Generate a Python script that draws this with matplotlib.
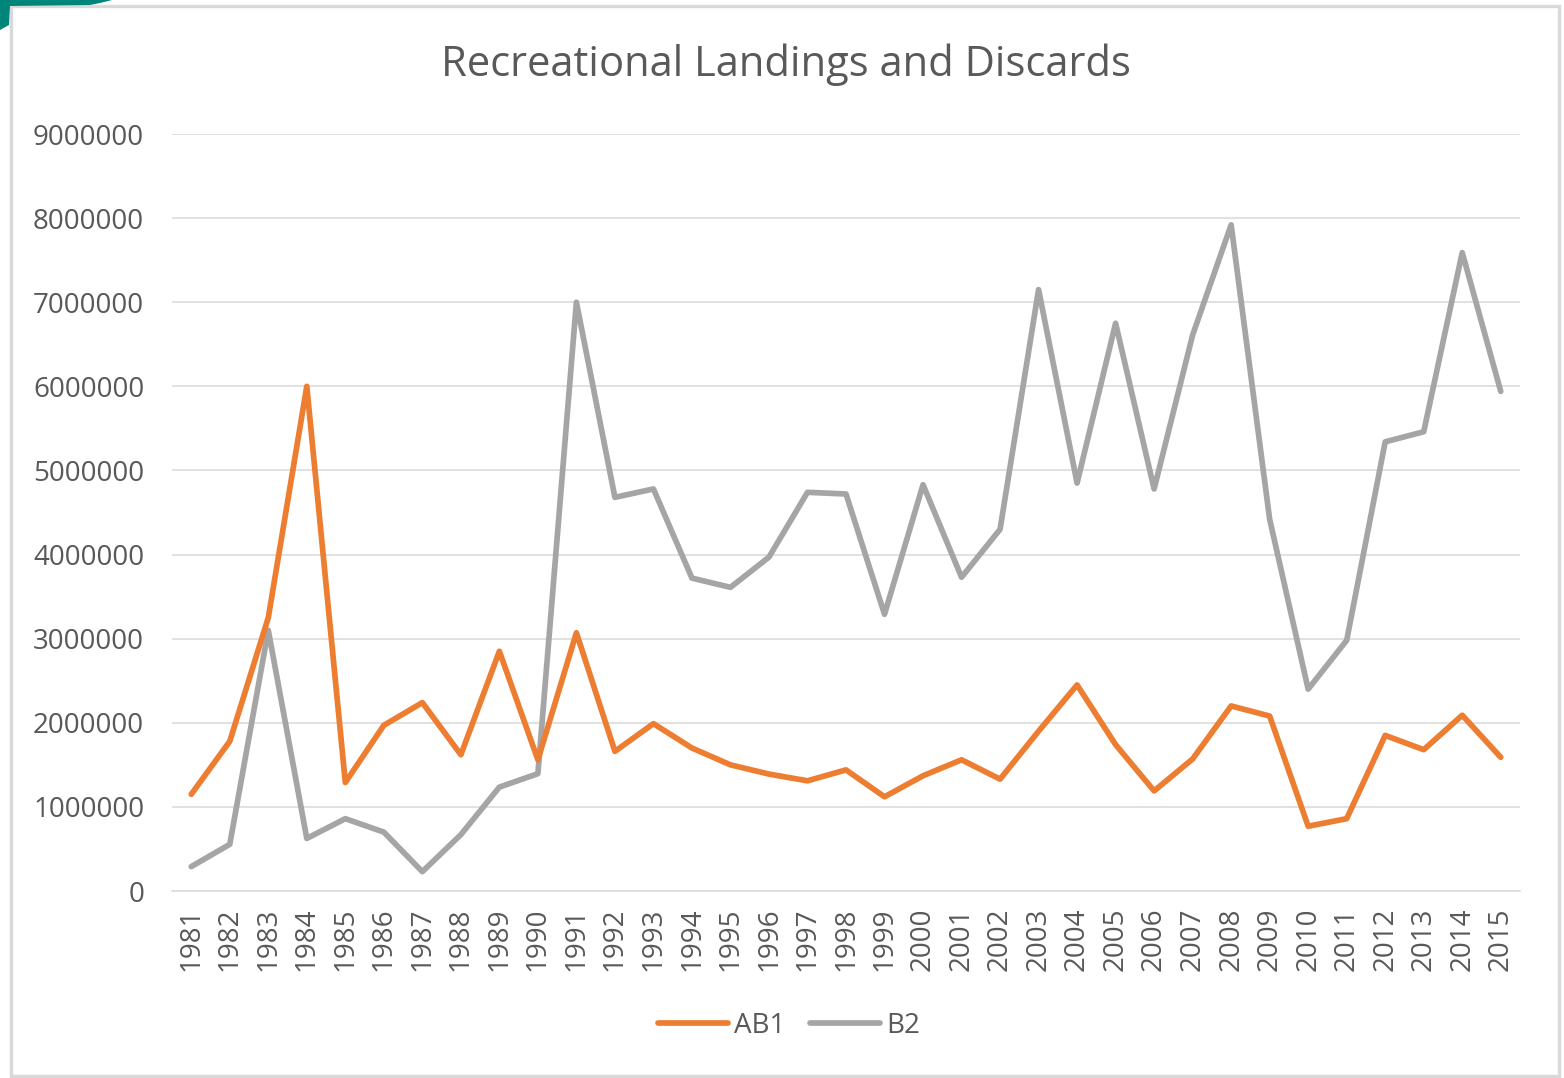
import matplotlib
matplotlib.use("Agg")
import matplotlib.pyplot as plt
from matplotlib.patches import Rectangle, Polygon
from matplotlib.ticker import FixedLocator

# Recreational landings (AB1) and discards (B2), fish per year
years = [str(y) for y in range(1981, 2016)]
ab1 = [1150000, 1780000, 3250000, 6000000, 1290000, 1970000, 2240000, 1620000,
       2850000, 1560000, 3070000, 1660000, 1990000, 1700000, 1500000, 1390000,
       1310000, 1440000, 1120000, 1370000, 1560000, 1330000, 1900000, 2450000,
       1740000, 1190000, 1570000, 2200000, 2080000, 770000, 860000, 1850000,
       1680000, 2090000, 1590000]
b2 = [290000, 555000, 3100000, 625000, 860000, 700000, 230000, 670000,
      1235000, 1395000, 7000000, 4680000, 4780000, 3720000, 3610000, 3970000,
      4740000, 4720000, 3290000, 4830000, 3730000, 4300000, 7150000, 4850000,
      6750000, 4780000, 6610000, 7920000, 4420000, 2400000, 2980000, 5340000,
      5460000, 7590000, 5940000]
series_names = ["AB1", "B2"]
y_ticks = [0, 1000000, 2000000, 3000000, 4000000, 5000000, 6000000, 7000000,
           8000000, 9000000]

ORANGE = "#ED7D31"
GREY = "#A5A5A5"
TEXT = "#595959"
GRID = "#D9D9D9"
LABEL_SIZE = 20

plt.rcParams["font.family"] = ["Open Sans", "DejaVu Sans"]

W, H = 1564, 1078
fig = plt.figure(figsize=(W / 100, H / 100), dpi=100)
fig.patch.set_facecolor("white")

ax = fig.add_axes([172 / W, 1 - 891 / H, 1348 / W, 757 / H])
x = list(range(len(years)))
ax.plot(x, ab1, color=ORANGE, lw=4.1, solid_joinstyle="round",
        solid_capstyle="round", label=series_names[0], zorder=3)
ax.plot(x, b2, color=GREY, lw=4.1, solid_joinstyle="round",
        solid_capstyle="round", label=series_names[1], zorder=2)

ax.set_xlim(-0.5, len(years) - 0.5)
ax.set_ylim(0, 9000000)
ax.yaxis.set_major_locator(FixedLocator(y_ticks))
ax.set_yticklabels([str(v) for v in y_ticks])
ax.set_xticks(x)
ax.set_xticklabels(years, rotation=90)
ax.grid(axis="y", color=GRID, lw=1.1)
ax.set_axisbelow(True)
for side in ("top", "right", "left"):
    ax.spines[side].set_visible(False)
ax.spines["bottom"].set_color(GRID)
ax.spines["bottom"].set_linewidth(1.1)
ax.tick_params(axis="both", length=0, colors=TEXT, labelsize=LABEL_SIZE)
ax.tick_params(axis="y", pad=20)
ax.tick_params(axis="x", pad=12)

fig.text(785.5 / W, 1 - 65 / H, "Recreational Landings and Discards",
         ha="center", va="center", fontsize=30, color=TEXT)

leg = fig.legend(loc="center", bbox_to_anchor=(789 / W, 1 - 1026 / H), ncol=2,
                 frameon=False, fontsize=LABEL_SIZE, handlelength=2.5,
                 handletextpad=0.22, columnspacing=0.9)
for t in leg.get_texts():
    t.set_color(TEXT)

# Outer frame and corner tab
fig.patches.append(Rectangle((10.5 / W, 1 - 1075.5 / H), 1548 / W, 1070 / H,
                             transform=fig.transFigure, fill=False,
                             edgecolor=GRID, lw=2.4))
corner = [(0, 0), (112, 0), (100, 3), (90, 5), (10, 6), (9, 25), (0, 30)]
fig.patches.append(Polygon([(px / W, 1 - py / H) for px, py in corner],
                           closed=True, transform=fig.transFigure,
                           facecolor="#00857A", edgecolor="none"))

fig.savefig("out.png", dpi=100, facecolor="white")
